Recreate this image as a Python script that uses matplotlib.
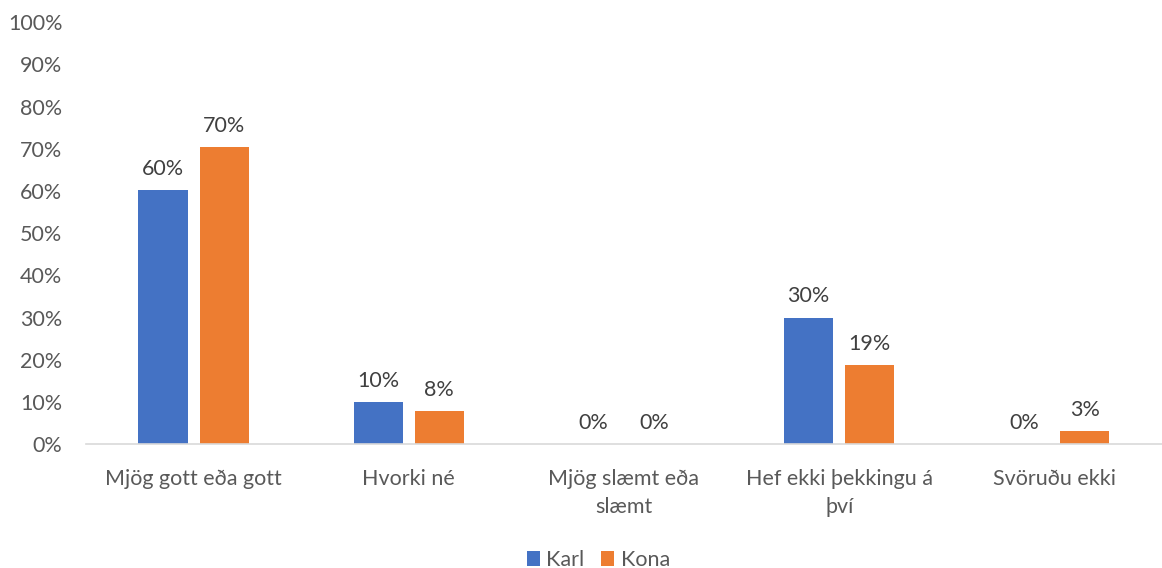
import numpy as np
import matplotlib
matplotlib.use("Agg")
from matplotlib import pyplot as plt

categories = ["Mjög gott eða gott", "Hvorki né", "Mjög slæmt eða\nslæmt",
              "Hef ekki þekkingu á\nþví", "Svöruðu ekki"]
karl = [60.3, 9.9, 0, 30.0, 0]
kona = [70.4, 7.8, 0, 18.7, 3.1]
karl_labels = ["60%", "10%", "0%", "30%", "0%"]
kona_labels = ["70%", "8%", "0%", "19%", "3%"]

plt.rcParams['font.family'] = ['Lato', 'DejaVu Sans']
txt = "#595959"
fs = 15.5

fig = plt.figure(figsize=(11.62, 5.68), dpi=100)
ax = fig.add_axes([0.074, 0.218, 0.926, 0.743])

x = np.arange(len(categories))
w = 0.228
off = (w + 0.056) / 2
b1 = ax.bar(x - off, karl, w, color="#4472C4", label="Karl")
b2 = ax.bar(x + off, kona, w, color="#ED7D31", label="Kona")

for bars, labs in ((b1, karl_labels), (b2, kona_labels)):
    for b, l in zip(bars, labs):
        ax.annotate(l, (b.get_x() + b.get_width() / 2, b.get_height()),
                    xytext=(0, 8), textcoords="offset points",
                    ha="center", va="bottom", fontsize=fs, color="#404040")

ax.set_xlim(-0.5, len(categories) - 0.5)
ax.set_ylim(0, 100)
ax.set_yticks(np.arange(0, 101, 10))
ax.set_yticklabels([f"{v}%" for v in range(0, 101, 10)])
ax.set_xticks(x)
ax.set_xticklabels(categories, linespacing=1.5)
ax.tick_params(axis="both", length=0, labelsize=fs, colors=txt)
ax.tick_params(axis="x", pad=18)
ax.tick_params(axis="y", pad=17)
for s in ("top", "right", "left"):
    ax.spines[s].set_visible(False)
ax.spines["bottom"].set_color("#d9d9d9")
ax.spines["bottom"].set_linewidth(1.2)

fig.legend(loc="lower center", bbox_to_anchor=(0.515, -0.038), ncol=2, frameon=False,
           fontsize=fs, handlelength=0.6, handleheight=0.7, handletextpad=0.3,
           columnspacing=0.8, labelcolor=txt)

fig.savefig("out.png", dpi=100)
